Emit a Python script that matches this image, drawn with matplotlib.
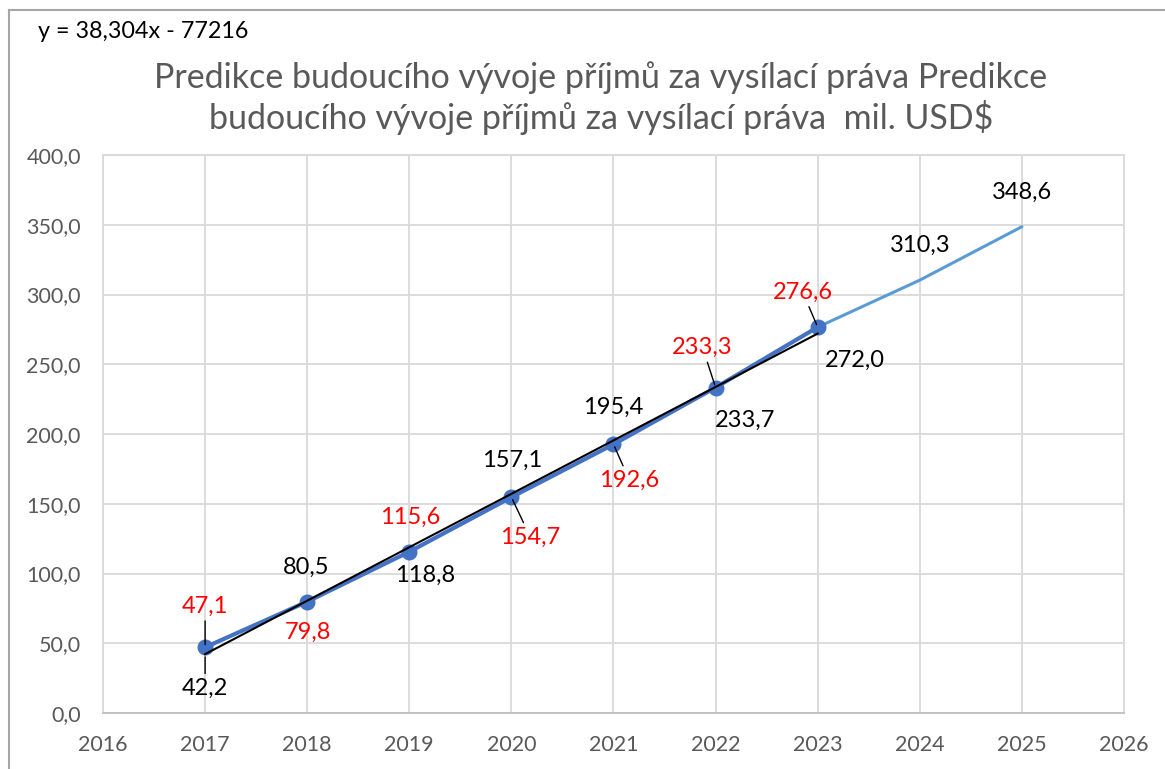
# -*- coding: utf-8 -*-
"""
Predikce příjmů za vysílací práva – skutečnost 2017–2023, lineární trend a výhled 2024–2025.
"""
import matplotlib
matplotlib.use("Agg")
import matplotlib.pyplot as plt
from matplotlib.ticker import FuncFormatter, MultipleLocator
from matplotlib.lines import Line2D

plt.rcParams["font.family"] = ["Lato", "DejaVu Sans"]

# --- data ---
years = [2017, 2018, 2019, 2020, 2021, 2022, 2023]
actual = [47.1, 79.8, 115.6, 154.7, 192.6, 233.3, 276.6]
trend = [42.2, 80.5, 118.8, 157.1, 195.4, 233.7, 272.0]
fc_years = [2023, 2024, 2025]
forecast = [276.6, 310.3, 348.6]
equation = "y = 38,304x - 77216"
title = ("Predikce budoucího vývoje příjmů za vysílací práva Predikce\n"
         "budoucího vývoje příjmů za vysílací práva  mil. USD$")

# label offsets in pixels (dx, dy), and whether a leader line is drawn
act_off = [(0, 41), (1, -31), (1, 34), (19, -40), (16, -36), (-13, 40), (-15, 35)]
act_lead = [True, False, False, True, True, True, True]
tr_off = [(0, -34), (-1, 33), (16, -28), (1, 34), (0, 33), (29, -33), (37, -27)]
tr_lead = [True, False, False, False, False, False, False]
fc_off = [None, (0, 35), (0, 34)]

def fmt(v):
    return ("%.1f" % v).replace(".", ",")

fig = plt.figure(figsize=(11.65, 7.69), dpi=100)
ax = fig.add_axes([103 / 1165, 1 - 713 / 769, (1124 - 103) / 1165, (713 - 155) / 769])

grid_c = "#D9D9D9"
ax.set_xlim(2016, 2026)
ax.set_ylim(0, 400)
ax.xaxis.set_major_locator(MultipleLocator(1))
ax.yaxis.set_major_locator(MultipleLocator(50))
ax.yaxis.set_major_formatter(FuncFormatter(lambda v, p: fmt(v)))
ax.xaxis.set_major_formatter(FuncFormatter(lambda v, p: "%d" % v))
ax.grid(True, color=grid_c, lw=1.3)
ax.set_axisbelow(True)
for s in ax.spines.values():
    s.set_color(grid_c)
    s.set_linewidth(1.3)
ax.spines["bottom"].set_color("#BFBFBF")
ax.tick_params(length=0, pad=16, labelsize=15.5, labelcolor="#595959")

ax.plot(fc_years, forecast, color="#5B9BD5", lw=2.2, zorder=3, solid_capstyle="round")
ax.plot(years, actual, color="#4472C4", lw=3, marker="o", ms=10.5, zorder=4)
ax.plot(years, trend, color="black", lw=1.5, zorder=5)

def label(x, y, off, color, lead):
    kw = {}
    if lead:
        kw["arrowprops"] = dict(arrowstyle="-", color="black", lw=1.0,
                                shrinkA=1, shrinkB=2)
    ax.annotate(fmt(y), (x, y), xytext=off, textcoords="offset pixels",
                ha="center", va="center", fontsize=17, color=color,
                zorder=6, **kw)

for x, y, o, l in zip(years, actual, act_off, act_lead):
    label(x, y, o, "#FF0000", l)
for x, y, o, l in zip(years, trend, tr_off, tr_lead):
    label(x, y, o, "black", l)
for x, y, o in zip(fc_years, forecast, fc_off):
    if o is not None:
        label(x, y, o, "black", False)

fig.text(601 / 1165, 1 - 98 / 769, title, ha="center", va="center",
         fontsize=24.5, color="#595959", linespacing=1.18)
fig.text(38 / 1165, 1 - 32 / 769, equation, ha="left", va="center",
         fontsize=16.8, color="black")

# chart-area border (left and top edges visible)
fig.add_artist(Line2D([9 / 1165, 9 / 1165], [0, 1 - 10 / 769],
                      transform=fig.transFigure, color="#A6A6A6", lw=1.5))
fig.add_artist(Line2D([9 / 1165, 1], [1 - 10 / 769, 1 - 10 / 769],
                      transform=fig.transFigure, color="#A6A6A6", lw=1.5))

fig.savefig("out.png", dpi=100)
